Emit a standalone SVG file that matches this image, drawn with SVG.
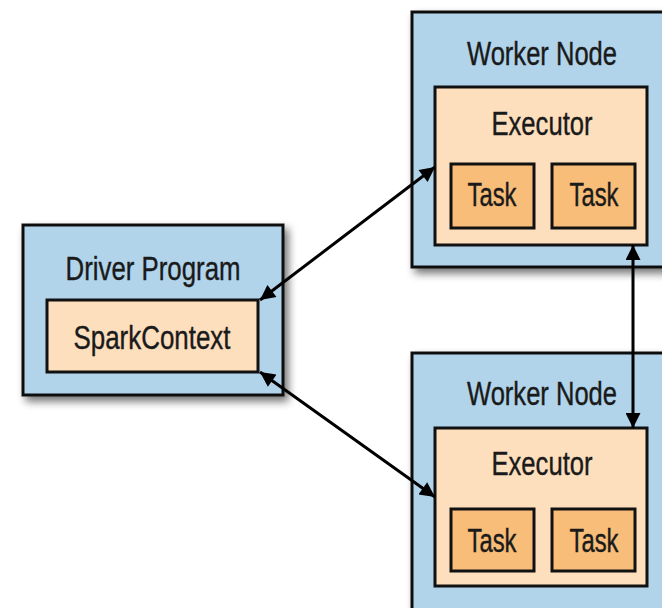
<svg xmlns="http://www.w3.org/2000/svg" width="662" height="608" viewBox="0 0 662 608">
<defs>
<filter id="sh" x="-10%" y="-10%" width="130%" height="130%">
<feGaussianBlur in="SourceAlpha" stdDeviation="4"/>
<feOffset dx="4" dy="5" result="b"/>
<feComponentTransfer><feFuncA type="linear" slope="0.55"/></feComponentTransfer>
<feMerge><feMergeNode/><feMergeNode in="SourceGraphic"/></feMerge>
</filter>
<marker id="ah" viewBox="0 0 10 10" refX="10" refY="5" markerWidth="5.5" markerHeight="5" orient="auto-start-reverse" markerUnits="strokeWidth">
<path d="M0,0 L10,5 L0,10 z" fill="#000"/>
</marker>
<style>
.outer{fill:#b1d4ea;stroke:#111;stroke-width:3}
.exec{fill:#fddfbd;stroke:#111;stroke-width:3}
.task{fill:#f8bd78;stroke:#111;stroke-width:3}
text{font-family:"Liberation Sans Narrow","Liberation Sans",Arial,sans-serif;font-size:33px;fill:#1a1a1a;stroke:#1a1a1a;stroke-width:0.4;text-anchor:middle}
.conn{stroke:#000;stroke-width:3;fill:none;marker-start:url(#ah);marker-end:url(#ah)}
</style>
</defs>
<rect width="662" height="608" fill="#fff"/>
<g id="driver">
<rect class="outer" x="23" y="225" width="260" height="170" filter="url(#sh)"/>
<text x="153" y="280" textLength="175" lengthAdjust="spacingAndGlyphs">Driver Program</text>
<g id="sparkcontext">
<rect class="exec" x="47" y="300" width="211" height="72"/>
<text x="152" y="349" textLength="157" lengthAdjust="spacingAndGlyphs">SparkContext</text>
</g>
</g>
<g id="worker1">
<rect class="outer" x="412" y="12" width="270" height="255" filter="url(#sh)"/>
<text x="542" y="65" textLength="150" lengthAdjust="spacingAndGlyphs">Worker Node</text>
<g id="executor1">
<rect class="exec" x="435" y="87" width="212" height="158"/>
<text x="542" y="135" textLength="101" lengthAdjust="spacingAndGlyphs">Executor</text>
<g id="task1a"><rect class="task" x="451" y="164" width="83" height="64"/><text x="492" y="206" textLength="49" lengthAdjust="spacingAndGlyphs">Task</text></g>
<g id="task1b"><rect class="task" x="552" y="164" width="83" height="64"/><text x="594" y="206" textLength="49" lengthAdjust="spacingAndGlyphs">Task</text></g>
</g>
</g>
<g id="worker2">
<rect class="outer" x="412" y="353" width="270" height="270" filter="url(#sh)"/>
<text x="542" y="405" textLength="150" lengthAdjust="spacingAndGlyphs">Worker Node</text>
<g id="executor2">
<rect class="exec" x="435" y="428" width="212" height="158"/>
<text x="542" y="475" textLength="101" lengthAdjust="spacingAndGlyphs">Executor</text>
<g id="task2a"><rect class="task" x="451" y="509" width="83" height="62"/><text x="492" y="552" textLength="49" lengthAdjust="spacingAndGlyphs">Task</text></g>
<g id="task2b"><rect class="task" x="552" y="509" width="83" height="62"/><text x="594" y="552" textLength="49" lengthAdjust="spacingAndGlyphs">Task</text></g>
</g>
</g>
<g id="connectors">
<line class="conn" x1="260" y1="300" x2="435" y2="167"/>
<line class="conn" x1="260" y1="372" x2="435" y2="497"/>
<line class="conn" x1="633" y1="245" x2="633" y2="428"/>
</g>
</svg>
